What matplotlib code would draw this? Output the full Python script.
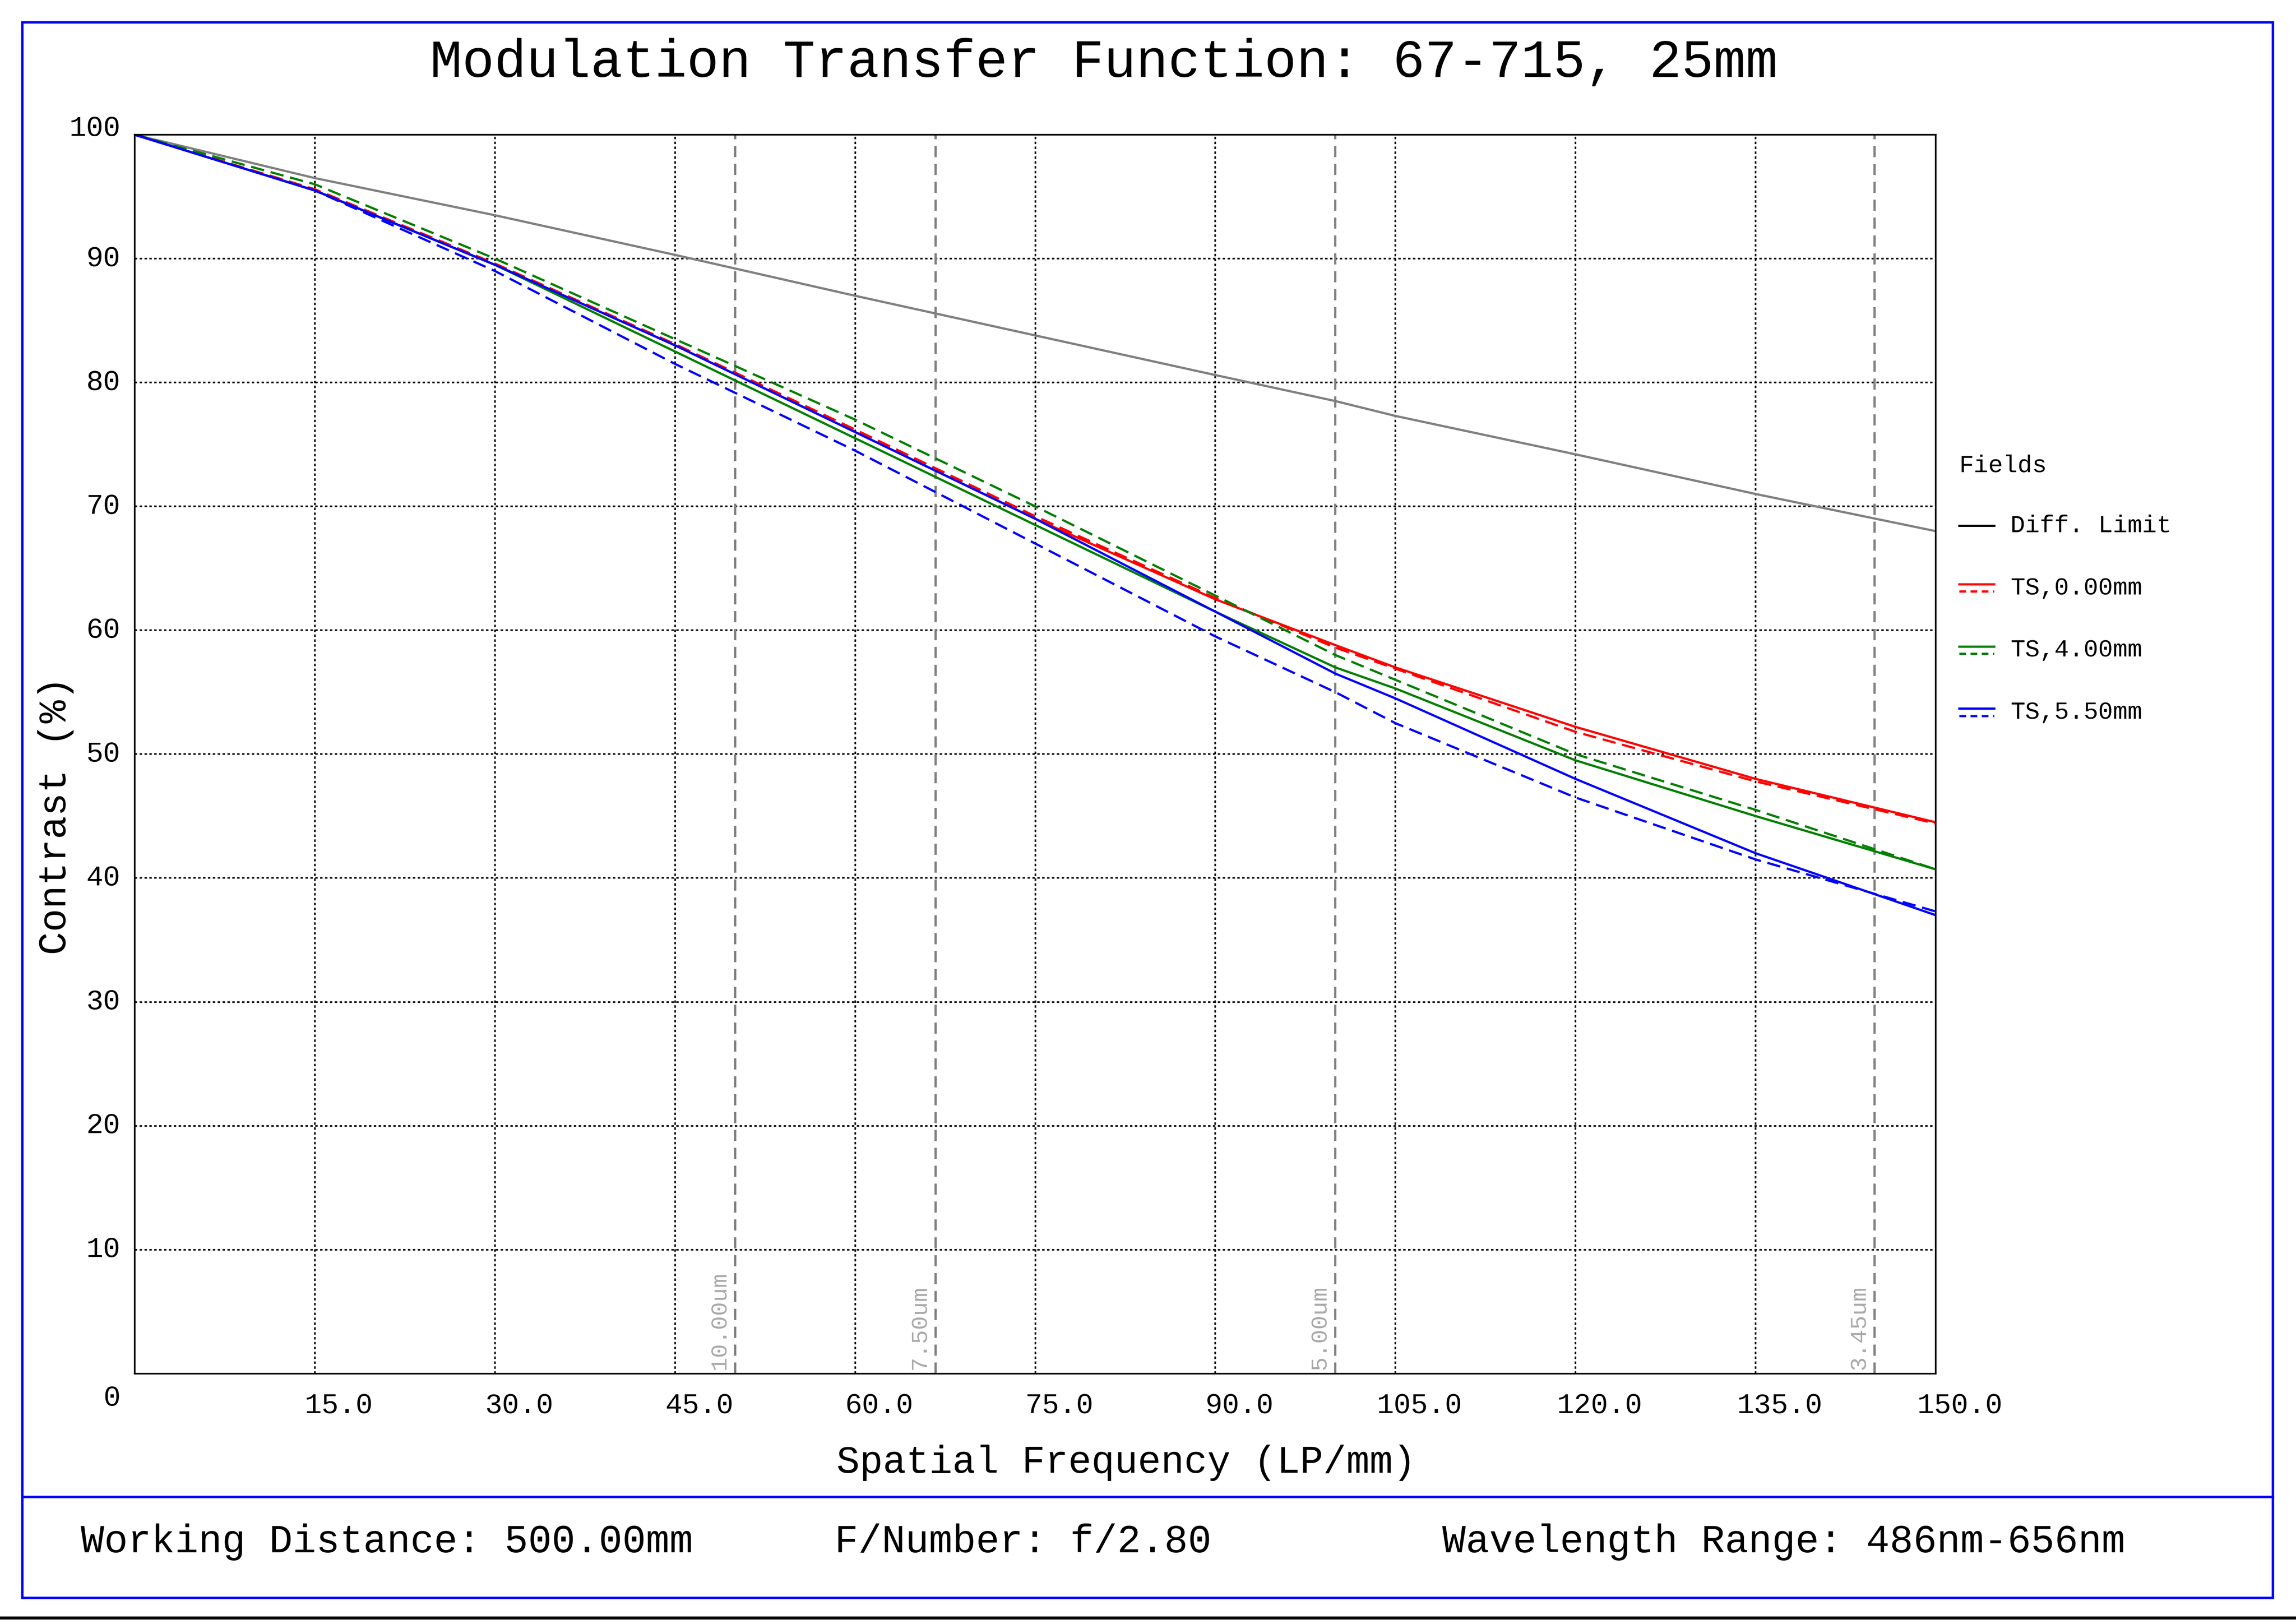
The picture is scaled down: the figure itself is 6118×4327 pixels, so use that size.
import matplotlib.pyplot as plt
import matplotlib.patches as mpatches
import matplotlib.lines as mlines

plt.rcParams["font.family"] = "Liberation Mono"

# ---- data ----
freq = [0, 15, 30, 45, 60, 75, 90, 100, 105, 120, 135, 150]
diff_limit = [100, 96.5, 93.5, 90.3, 87.0, 83.8, 80.6, 78.5, 77.3, 74.2, 71.0, 68.0]
ts0_t = [100, 95.5, 89.5, 83.0, 76.0, 69.0, 62.5, 58.8, 57.0, 52.2, 48.0, 44.5]
ts0_s = [100, 95.6, 89.6, 83.1, 76.2, 69.2, 62.6, 58.6, 56.9, 51.8, 47.8, 44.4]
ts4_t = [100, 95.5, 89.5, 82.5, 75.5, 68.5, 61.5, 57.0, 55.3, 49.5, 45.0, 40.7]
ts4_s = [100, 96.0, 90.0, 83.5, 77.0, 70.0, 62.8, 58.0, 56.0, 50.0, 45.5, 40.7]
ts55_t = [100, 95.5, 89.5, 83.0, 76.0, 69.0, 61.5, 56.5, 54.5, 48.0, 42.0, 37.0]
ts55_s = [100, 95.5, 89.0, 81.5, 74.5, 67.0, 59.5, 55.0, 52.5, 46.5, 41.5, 37.3]
pixel_freq = [50.0, 66.7, 100.0, 144.9]
pixel_labels = ["10.00um", "7.50um", "5.00um", "3.45um"]
xticks = [15, 30, 45, 60, 75, 90, 105, 120, 135, 150]
yticks = [0, 10, 20, 30, 40, 50, 60, 70, 80, 90, 100]

W, H = 1568, 1109
fig = plt.figure(figsize=(6118 / 390, 4327 / 390), dpi=390)
ax = fig.add_axes([92 / W, 1 - 938 / H, (1322 - 92) / W, (938 - 92) / H])
ax.set_xlim(0, 150)
ax.set_ylim(0, 100)
ax.set_xticks([])
ax.set_yticks([])
for x in xticks[:-1]:
    ax.axvline(x, color="black", ls=(0, (1.5, 1.5)), lw=0.8)
for y in yticks[1:-1]:
    ax.axhline(y, color="black", ls=(0, (1.5, 1.5)), lw=0.8)
for x, lab in zip(pixel_freq, pixel_labels):
    ax.axvline(x, color="gray", ls=(0, (5, 3)), lw=1.1)
    ax.text(x - 0.4, 0.3, lab, rotation=90, ha="right", va="bottom", color="darkgray", fontsize=11.5)

ax.plot(freq, diff_limit, color="gray", lw=1.1)
ax.plot(freq, ts0_s, color="red", lw=1.1, ls=(0, (6, 3)))
ax.plot(freq, ts0_t, color="red", lw=1.1)
ax.plot(freq, ts4_t, color="green", lw=1.1)
ax.plot(freq, ts4_s, color="green", lw=1.1, ls=(0, (6, 3)))
ax.plot(freq, ts55_t, color="blue", lw=1.1)
ax.plot(freq, ts55_s, color="blue", lw=1.1, ls=(0, (6, 3)))

for x in xticks:
    ax.text(x + 2, -2.6, f"{x:.1f}", ha="center", va="center", fontsize=14, clip_on=False)
for y in yticks:
    yy = y + 0.5 if y == 100 else (-2.0 if y == 0 else y)
    ax.text(-1.2, yy, str(y), ha="right", va="center", fontsize=14, clip_on=False)

fig.text(754 / W, 1 - 43 / H, "Modulation Transfer Function: 67-715, 25mm", ha="center", va="center", fontsize=26.3)
fig.text(769 / W, 1 - 999 / H, "Spatial Frequency (LP/mm)", ha="center", va="center", fontsize=19)
fig.text(38 / W, 1 - 557 / H, "Contrast (%)", ha="center", va="center", rotation=90, fontsize=19)
fig.text(55 / W, 1 - 1053 / H, "Working Distance: 500.00mm", ha="left", va="center", fontsize=19.3)
fig.text(570 / W, 1 - 1053 / H, "F/Number: f/2.80", ha="left", va="center", fontsize=19.3)
fig.text(985 / W, 1 - 1053 / H, "Wavelength Range: 486nm-656nm", ha="left", va="center", fontsize=19.3)

# legend
fig.text(1338 / W, 1 - 318 / H, "Fields", ha="left", va="center", fontsize=12)
leg = [("Diff. Limit", "black", None), ("TS,0.00mm", "red", 1), ("TS,4.00mm", "green", 1), ("TS,5.50mm", "blue", 1)]
for i, (lab, c, dash) in enumerate(leg):
    yc = 1 - (359 + 42.5 * i) / H
    if dash:
        fig.add_artist(mlines.Line2D([1338 / W, 1362 / W], [yc + 2.5 / H] * 2, color=c, lw=1.1))
        fig.add_artist(mlines.Line2D([1338 / W, 1362 / W], [yc - 2.5 / H] * 2, color=c, lw=1.1, ls=(0, (3, 2))))
    else:
        fig.add_artist(mlines.Line2D([1338 / W, 1362 / W], [yc] * 2, color=c, lw=1.1))
    fig.text(1373 / W, yc, lab, ha="left", va="center", fontsize=12)

# frames
fig.add_artist(mpatches.Rectangle((15 / W, 1 - 1091 / H), 1537 / W, 1076 / H, fill=False, ec="blue", lw=1.2))
fig.add_artist(mlines.Line2D([15 / W, 1552 / W], [1 - 1022 / H] * 2, color="blue", lw=1.2))
fig.add_artist(mlines.Line2D([0, 1], [1 - 1105 / H] * 2, color="black", lw=1.5))

fig.savefig("out.png", dpi=390)
